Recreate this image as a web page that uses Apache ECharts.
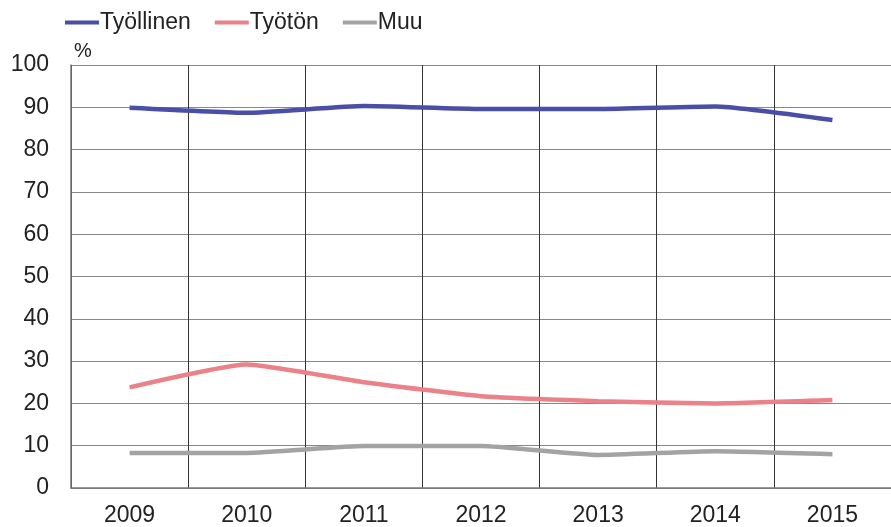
<!DOCTYPE html>
<html lang="fi">
<head>
  <meta charset="UTF-8">
  <title>chart</title>
  <style>
    html, body { margin: 0; padding: 0; background: #fff; }
    #main { width: 891px; height: 527px; }
  </style>
</head>
<body>
  <div id="main"></div>
  <script src="https://cdn.jsdelivr.net/npm/echarts@6/dist/echarts.min.js"></script>
  <script>
    var years = ['2009', '2010', '2011', '2012', '2013', '2014', '2015'];
    var tyollinen = [89.9, 88.7, 90.3, 89.6, 89.6, 90.2, 87.0];
    var tyoton = [23.8, 29.2, 25.0, 21.7, 20.5, 20.0, 20.8];
    var muu = [8.3, 8.3, 9.9, 9.9, 7.8, 8.7, 8.0];

    var font = 'Liberation Sans, Arial, sans-serif';

    function lineSeries(name, data, color) {
      return {
        name: name,
        type: 'line',
        data: data,
        smooth: 0.15,
        symbol: 'none',
        lineStyle: { width: 4.5, color: color },
        itemStyle: { color: color }
      };
    }

    var myChart = echarts.init(document.getElementById('main'));
    var option = {
      animation: false,
      legend: {
        left: 60,
        top: 6,
        icon: 'rect',
        itemWidth: 34,
        itemHeight: 4,
        itemGap: 24,
        textStyle: { color: '#222', fontSize: 23, fontFamily: font, padding: [0, 0, 0, -4] },
        data: ['Työllinen', 'Työtön', 'Muu']
      },
      grid: { left: 71, right: -7, top: 65, bottom: 39 },
      xAxis: {
        type: 'category',
        data: years,
        boundaryGap: true,
        axisLine: { lineStyle: { color: '#777', width: 1.5 } },
        axisTick: { show: false },
        axisLabel: { color: '#222', fontSize: 23, fontFamily: font, margin: 16 },
        splitLine: { show: true, lineStyle: { color: '#333', width: 1 } }
      },
      yAxis: {
        type: 'value',
        min: 0,
        max: 100,
        interval: 10,
        name: '%',
        nameLocation: 'end',
        nameGap: 4,
        nameTextStyle: { color: '#222', fontSize: 20, fontFamily: font, align: 'left', padding: [0, 0, 0, 3] },
        axisLine: { show: true, lineStyle: { color: '#777', width: 1.5 } },
        axisTick: { show: false },
        axisLabel: { color: '#222', fontSize: 23, fontFamily: font, margin: 22 },
        splitLine: { show: true, lineStyle: { color: '#888', width: 1 } }
      },
      series: [
        lineSeries('Työllinen', tyollinen, '#4a4ea6'),
        lineSeries('Työtön', tyoton, '#eb8189'),
        lineSeries('Muu', muu, '#a3a3a3')
      ]
    };
    myChart.setOption(option);
  </script>
</body>
</html>
